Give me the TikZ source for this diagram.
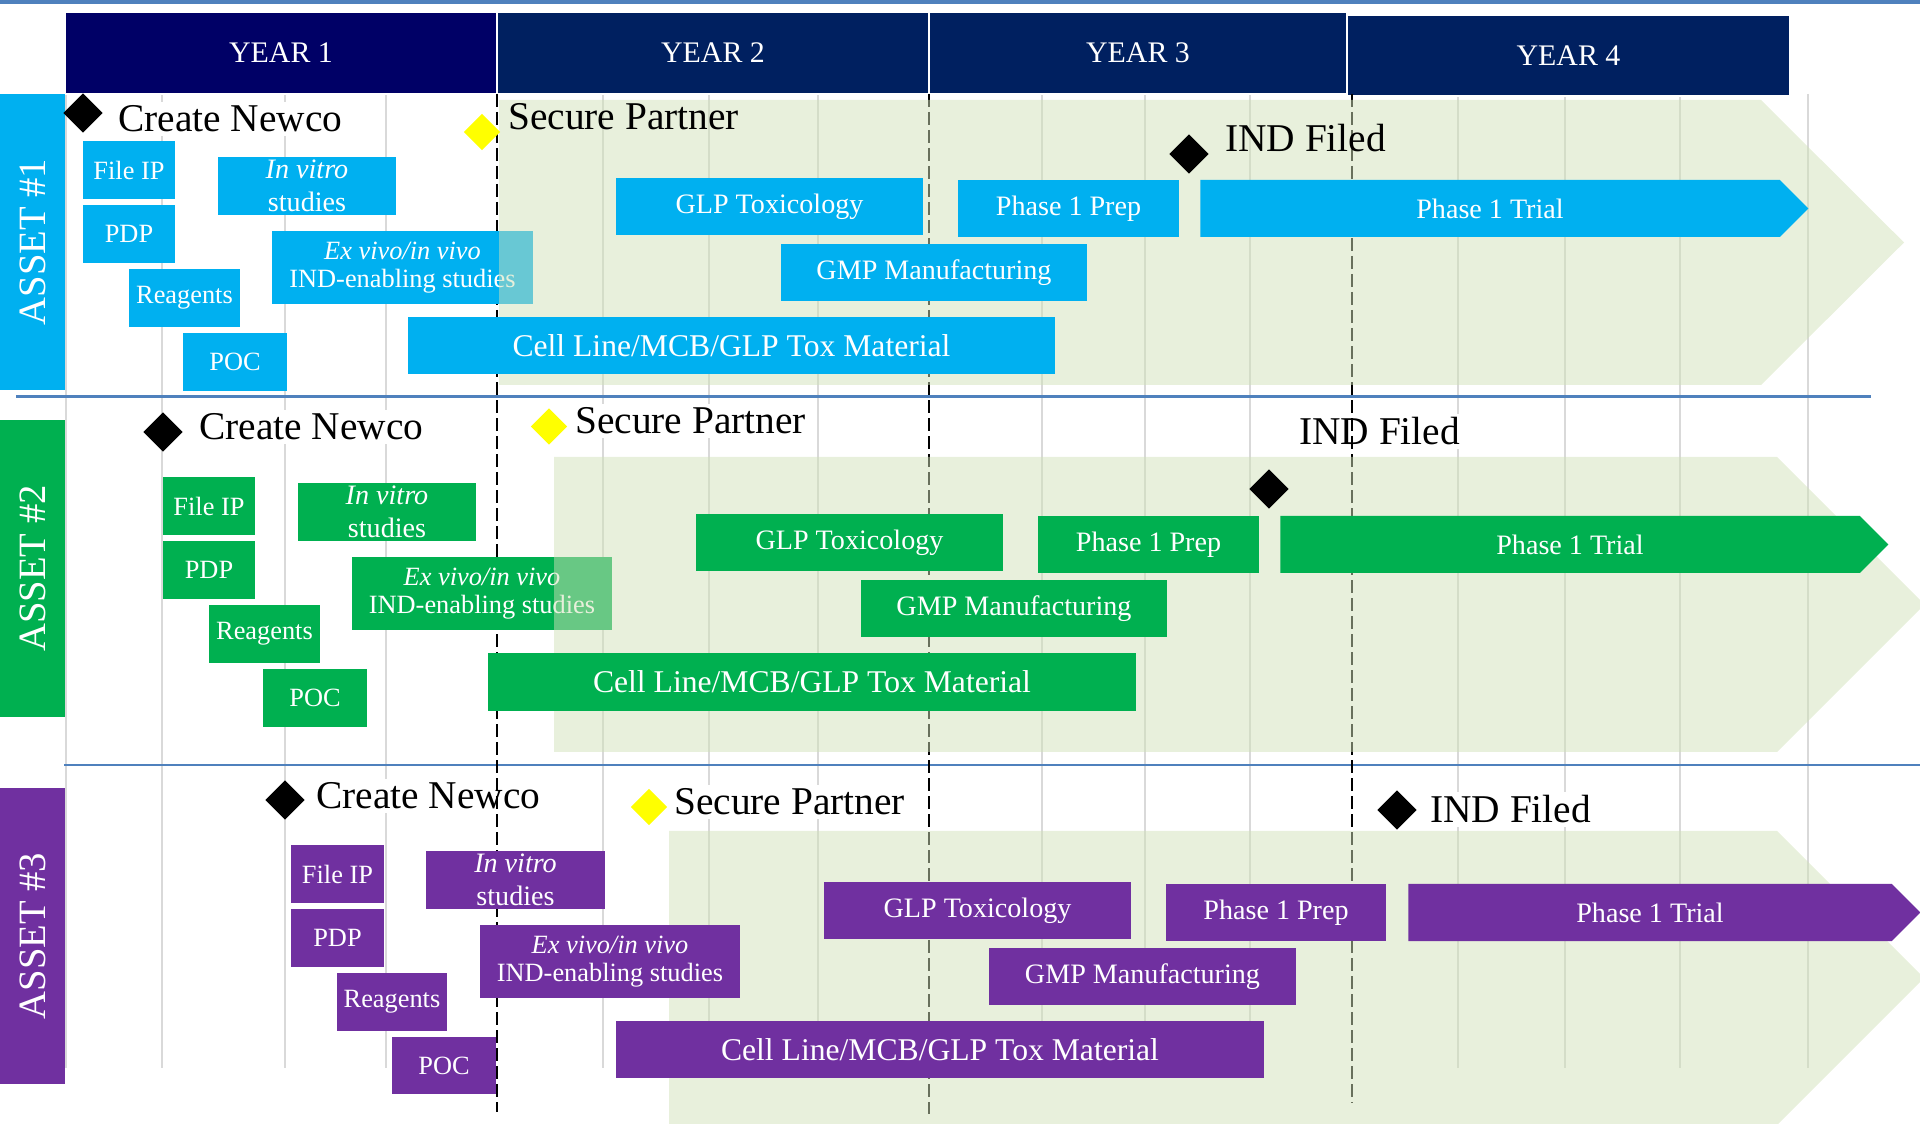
\documentclass[tikz,border=0pt]{standalone}
\usepackage{fontspec}
\setmainfont{Liberation Serif}
\usepackage{tikz}
\usepackage{xcolor}
\usetikzlibrary{shapes.geometric, shapes.symbols, positioning}
\definecolor{yrnavy}{RGB}{0, 0, 102}
\definecolor{yrdark}{RGB}{0, 32, 96}
\definecolor{astblue}{RGB}{0, 176, 240}
\definecolor{astgreen}{RGB}{0, 176, 80}
\definecolor{astpurple}{RGB}{112, 48, 160}
\definecolor{rulblue}{RGB}{79, 129, 189}
\definecolor{gridgray}{RGB}{217, 217, 217}
\definecolor{chevgreen}{RGB}{209, 225, 185}
\definecolor{msyellow}{RGB}{255, 255, 0}
\tikzset{
  yearbox/.style={rectangle, fill=#1, draw=white, line width=0.4pt, text=white,
                  minimum height=0.82cm, inner sep=0pt, font=\fontsize{8.5}{10}\selectfont},
  assetbox/.style={rectangle, fill=#1, text=white, rotate=90, minimum width=2.96cm,
                   minimum height=0.65cm, inner sep=0pt, font=\fontsize{11}{13}\selectfont},
  task/.style={rectangle, fill=#1, text=white, minimum height=0.58cm, inner sep=0pt,
               align=center, font=\fontsize{7.5}{9}\selectfont},
  bar/.style={task=#1, minimum height=0.57cm, font=\fontsize{8}{9.5}\selectfont},
  trial/.style={signal, signal to=east, signal pointer angle=90, fill=#1, text=white,
                minimum height=0.57cm, inner sep=0pt, font=\fontsize{8}{9.5}\selectfont},
  mstone/.style={diamond, fill=#1, minimum width=0.4cm, minimum height=0.4cm, inner sep=0pt},
  mstone/.default=black,
  mlabel/.style={anchor=base west, inner sep=1pt, font=\fontsize{11.2}{13}\selectfont},
  chevron/.style={fill=chevgreen, fill opacity=0.5},
  gridline/.style={gridgray, line width=0.02cm},
  yearline/.style={black, line width=0.025cm, dash pattern=on 0.13cm off 0.05cm},
  rule/.style={rulblue, line width=0.028cm},
}
\begin{document}
\begin{tikzpicture}
  \useasboundingbox (0,0) rectangle (19.2,-11.24);
  \clip (0,0) rectangle (19.2,-11.24);

  \draw[rule, line width=0.04cm] (0,-0.02) -- (19.2,-0.02);
  \draw[gridline] (0.66,-0.94) -- (0.66,-10.68)  (1.62,-0.94) -- (1.62,-10.68)
                  (2.85,-0.94) -- (2.85,-10.68)  (3.86,-0.94) -- (3.86,-10.68)
                  (6.03,-0.94) -- (6.03,-10.68)  (7.09,-0.94) -- (7.09,-10.68)
                  (8.18,-0.94) -- (8.18,-10.68)  (10.42,-0.94) -- (10.42,-10.68)
                  (11.45,-0.94) -- (11.45,-10.68) (12.50,-0.94) -- (12.50,-10.68)
                  (14.58,-0.94) -- (14.58,-10.68) (15.65,-0.94) -- (15.65,-10.68)
                  (16.80,-0.94) -- (16.80,-10.68) (18.08,-0.94) -- (18.08,-10.68);
  \draw[rule] (0.16,-3.965) -- (18.71,-3.965);
  \draw[rule] (0.64,-7.65) -- (19.2,-7.65);

  \node[yearbox=yrnavy, minimum width=4.32cm] (yr1) at (2.81,-0.53) {YEAR 1};
  \node[yearbox=yrdark, minimum width=4.32cm] (yr2) at (7.13,-0.53) {YEAR 2};
  \node[yearbox=yrdark, minimum width=4.18cm] (yr3) at (11.38,-0.53) {YEAR 3};
  \node[yearbox=yrdark, minimum width=4.43cm, minimum height=0.81cm] (yr4) at (15.685,-0.555) {YEAR 4};

  \node[assetbox=astblue] (ast1) at (0.325,-2.42) {ASSET \#1};
  \node[assetbox=astgreen, minimum width=2.97cm] (ast2) at (0.325,-5.685) {ASSET \#2};
  \node[assetbox=astpurple] (ast3) at (0.325,-9.36) {ASSET \#3};

  \node[mlabel, fill=white] (cn1t) at (1.14,-1.32) {Create Newco};
  \node[mstone] (cn1) at (0.83,-1.13) {};
  \node[mlabel, fill=white] (cn2t) at (1.95,-4.40) {Create Newco};
  \node[mstone] (cn2) at (1.63,-4.32) {};
  \node[mlabel, fill=white] (sp2t) at (5.71,-4.34) {Secure Partner};
  \node[mstone=msyellow, minimum width=0.37cm, minimum height=0.37cm] (sp2) at (5.49,-4.265) {};
  \node[mlabel, fill=white] (ind2t) at (12.95,-4.45) {IND Filed};
  \node[mlabel, fill=white] (cn3t) at (3.12,-8.09) {Create Newco};
  \node[mstone] (cn3) at (2.85,-8.00) {};
  \node[mlabel, fill=white] (sp3t) at (6.70,-8.15) {Secure Partner};
  \node[mstone=msyellow, minimum width=0.37cm, minimum height=0.37cm] (sp3) at (6.49,-8.07) {};
  \node[mlabel, fill=white] (ind3t) at (14.26,-8.23) {IND Filed};
  \node[mstone] (ind3) at (13.97,-8.10) {};

  \draw[yearline] (4.97,-0.94) -- (4.97,-11.12);
  \draw[yearline] (9.29,-0.94) -- (9.29,-11.14);
  \draw[yearline] (13.52,-0.94) -- (13.52,-11.03);

  \node[task=astblue, minimum width=2.61cm, minimum height=0.73cm, font=\fontsize{7.5}{8}\selectfont]
        (exv1) at (4.025,-2.675) {\textit{Ex vivo/in vivo}\\IND-enabling studies};
  \node[task=astgreen, minimum width=2.60cm, minimum height=0.73cm, font=\fontsize{7.5}{8}\selectfont]
        (exv2) at (4.82,-5.935) {\textit{Ex vivo/in vivo}\\IND-enabling studies};

  \fill[chevron] (4.99,-1.00) -- (17.61,-1.00) -- (19.04,-2.425) -- (17.61,-3.85) -- (4.99,-3.85) -- cycle;
  \fill[chevron] (5.54,-4.57) -- (17.77,-4.57) -- (19.245,-6.045) -- (17.77,-7.52) -- (5.54,-7.52) -- cycle;
  \fill[chevron] (6.69,-8.31) -- (17.77,-8.31) -- (19.24,-9.78) -- (17.77,-11.25) -- (6.69,-11.25) -- cycle;

  \node[mlabel] (sp1t) at (5.04,-1.30) {Secure Partner};
  \node[mstone=msyellow, minimum width=0.37cm, minimum height=0.37cm] (sp1) at (4.82,-1.32) {};
  \node[mlabel] (ind1t) at (12.21,-1.52) {IND Filed};
  \node[mstone] (ind1) at (11.89,-1.54) {};
  \node[mstone] (ind2) at (12.69,-4.89) {};

  \node[task=astblue, minimum width=0.92cm] (fip1) at (1.29,-1.70) {File IP};
  \node[task=astblue, minimum width=0.92cm] (pdp1) at (1.29,-2.34) {PDP};
  \node[task=astblue, minimum width=1.11cm] (rea1) at (1.845,-2.98) {Reagents};
  \node[task=astblue, minimum width=1.04cm] (poc1) at (2.35,-3.62) {POC};
  \node[task=astblue, minimum width=1.78cm, font=\fontsize{8}{9.3}\selectfont] (inv1) at (3.07,-1.86) {\textit{In vitro}\\studies};
  \node[bar=astblue, minimum width=3.07cm] (glp1) at (7.695,-2.065) {GLP Toxicology};
  \node[bar=astblue, minimum width=3.06cm] (gmp1) at (9.34,-2.725) {GMP Manufacturing};
  \node[bar=astblue, minimum width=6.47cm, font=\fontsize{9}{11}\selectfont] (cel1) at (7.315,-3.455) {Cell Line/MCB/GLP Tox Material};
  \node[bar=astblue, minimum width=2.21cm] (pre1) at (10.685,-2.085) {Phase 1 Prep};
  \node[trial=astblue, minimum width=6.08cm] (tri1) at (14.90,-2.085) {Phase 1 Trial};

  \node[task=astgreen, minimum width=0.92cm] (fip2) at (2.09,-5.06) {File IP};
  \node[task=astgreen, minimum width=0.92cm] (pdp2) at (2.09,-5.70) {PDP};
  \node[task=astgreen, minimum width=1.11cm] (rea2) at (2.645,-6.34) {Reagents};
  \node[task=astgreen, minimum width=1.04cm] (poc2) at (3.15,-6.98) {POC};
  \node[task=astgreen, minimum width=1.78cm, font=\fontsize{8}{9.3}\selectfont] (inv2) at (3.87,-5.12) {\textit{In vitro}\\studies};
  \node[bar=astgreen, minimum width=3.07cm] (glp2) at (8.495,-5.425) {GLP Toxicology};
  \node[bar=astgreen, minimum width=3.06cm] (gmp2) at (10.14,-6.085) {GMP Manufacturing};
  \node[bar=astgreen, minimum width=6.48cm, minimum height=0.58cm, font=\fontsize{9}{11}\selectfont] (cel2) at (8.12,-6.82) {Cell Line/MCB/GLP Tox Material};
  \node[bar=astgreen, minimum width=2.21cm] (pre2) at (11.485,-5.445) {Phase 1 Prep};
  \node[trial=astgreen, minimum width=6.08cm] (tri2) at (15.70,-5.445) {Phase 1 Trial};

  \node[task=astpurple, minimum width=0.93cm] (fip3) at (3.375,-8.74) {File IP};
  \node[task=astpurple, minimum width=0.93cm] (pdp3) at (3.375,-9.38) {PDP};
  \node[task=astpurple, minimum width=1.10cm] (rea3) at (3.92,-10.02) {Reagents};
  \node[task=astpurple, minimum width=1.04cm, minimum height=0.57cm] (poc3) at (4.44,-10.655) {POC};
  \node[task=astpurple, minimum width=1.79cm, font=\fontsize{8}{9.3}\selectfont] (inv3) at (5.155,-8.80) {\textit{In vitro}\\studies};
  \node[task=astpurple, minimum width=2.60cm, minimum height=0.73cm, font=\fontsize{7.5}{8}\selectfont]
        (exv3) at (6.10,-9.615) {\textit{Ex vivo/in vivo}\\IND-enabling studies};
  \node[bar=astpurple, minimum width=3.07cm] (glp3) at (9.775,-9.105) {GLP Toxicology};
  \node[bar=astpurple, minimum width=3.07cm] (gmp3) at (11.425,-9.765) {GMP Manufacturing};
  \node[bar=astpurple, minimum width=6.48cm, font=\fontsize{9}{11}\selectfont] (cel3) at (9.40,-10.495) {Cell Line/MCB/GLP Tox Material};
  \node[bar=astpurple, minimum width=2.20cm] (pre3) at (12.76,-9.125) {Phase 1 Prep};
  \node[trial=astpurple, minimum width=5.12cm] (tri3) at (16.50,-9.125) {Phase 1 Trial};
\end{tikzpicture}
\end{document}
